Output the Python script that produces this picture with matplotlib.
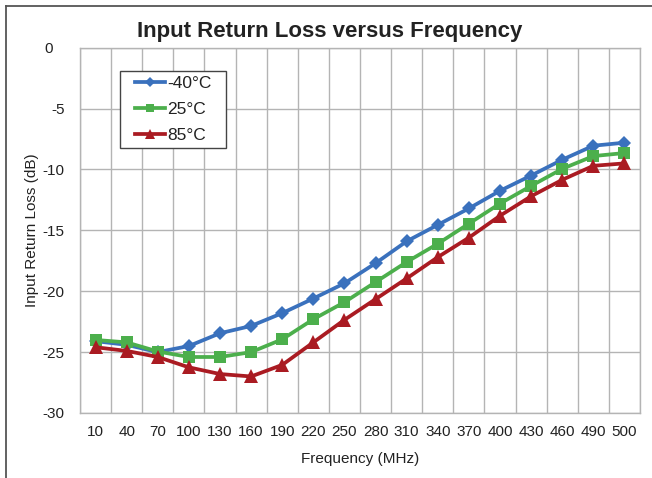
import matplotlib
matplotlib.use("Agg")
import matplotlib.pyplot as plt
from matplotlib.lines import Line2D
from matplotlib.patches import Rectangle
from matplotlib.transforms import ScaledTranslation
import numpy as np

plt.rcParams["font.family"] = ["Liberation Sans", "DejaVu Sans"]
plt.rcParams["axes.unicode_minus"] = False

# ---------------------------------------------------------------------------
# Data: input return loss (dB) per test frequency (MHz)
# ---------------------------------------------------------------------------
freq_labels = ["10", "40", "70", "100", "130", "160", "190", "220", "250",
               "280", "310", "340", "370", "400", "430", "460", "490", "500"]

rl_m40 = [-24.1, -24.4, -25.0, -24.5, -23.45, -22.85, -21.8, -20.6, -19.35,
          -17.7, -15.9, -14.55, -13.2, -11.75, -10.5, -9.2, -8.05, -7.8]
rl_25 = [-24.0, -24.2, -24.95, -25.4, -25.4, -25.0, -23.95, -22.3, -20.9,
         -19.25, -17.6, -16.1, -14.45, -12.8, -11.35, -9.95, -8.9, -8.65]
rl_85 = [-24.6, -24.9, -25.4, -26.25, -26.8, -27.0, -26.05, -24.2, -22.35,
         -20.65, -18.95, -17.2, -15.6, -13.8, -12.2, -10.85, -9.7, -9.5]

BLUE = "#3a71bd"
GREEN = "#4caf4c"
RED = "#aa1b22"
GRID = "#b4b4b4"
TEXT = "#222222"

W, H = 652, 478
fig = plt.figure(figsize=(W / 100, H / 100), dpi=100)
ax = fig.add_axes([80 / W, 1 - 413 / H, 560 / W, 365.3 / H])


def px_to_axes(px, py):
    # pixel position (from top-left of figure) -> axes fraction
    return (px - 80) / 560, (413 - py) / 365.3


x = np.arange(len(freq_labels))
series = [
    (rl_m40, BLUE, "D", 7.5, "-40°C"),
    (rl_25, GREEN, "s", 9, "25°C"),
    (rl_85, RED, "^", 9.5, "85°C"),
]
for vals, col, mk, ms, lab in series:
    ax.plot(x, vals, color=col, linewidth=2.7, marker=mk, markersize=ms,
            markeredgewidth=0, label=lab, solid_joinstyle="round")

ax.set_xlim(-0.5, len(freq_labels) - 0.5)
ax.set_ylim(-30, 0)
ax.set_yticks(np.arange(-30, 1, 5))
ax.set_xticks(x)
ax.set_xticklabels(freq_labels)
ax.set_xticks(np.arange(-0.5, len(freq_labels), 1), minor=True)
ax.tick_params(axis="both", which="both", length=0, labelsize=11,
               colors=TEXT)
ax.tick_params(axis="x", pad=9)
ax.tick_params(axis="y", pad=11)
ax.grid(axis="y", which="major", color=GRID, linewidth=1.0)
ax.grid(axis="x", which="minor", color=GRID, linewidth=1.0)
ax.set_axisbelow(True)
for spine in ax.spines.values():
    spine.set_color(GRID)
    spine.set_linewidth(1.0)

# the "0" label sits a little further left than the others
zero_lbl = ax.get_yticklabels()[-1]
zero_lbl.set_transform(zero_lbl.get_transform()
                       + ScaledTranslation(-0.12, 0, fig.dpi_scale_trans))

ax.set_xlabel("Frequency (MHz)", fontsize=11, color=TEXT, labelpad=9)
ax.set_ylabel("Input Return Loss (dB)", fontsize=11, color=TEXT,
              labelpad=3)

fig.text(0.505, 0.935, "Input Return Loss versus Frequency", ha="center",
         va="center", fontsize=16, fontweight="bold", color=TEXT)

# legend entries without frame, box drawn separately
leg = ax.legend(loc="upper left", bbox_to_anchor=px_to_axes(135, 76),
                fontsize=12.5, frameon=False, handlelength=1.72,
                handletextpad=0.12, borderpad=0, labelspacing=0.62,
                borderaxespad=0, markerscale=0.7)
for t in leg.get_texts():
    t.set_color(TEXT)
x0, y0 = px_to_axes(120, 148)
x1, y1 = px_to_axes(226, 70.5)
ax.add_patch(Rectangle((x0, y0), x1 - x0, y1 - y0, transform=ax.transAxes,
                       facecolor="white", edgecolor="#444444",
                       linewidth=1.0, zorder=4))
leg.set_zorder(5)

# outer frame (left and top edges)
fig.add_artist(Line2D([6 / W, 6 / W], [0, 1 - 6 / H], color="#555555",
                      linewidth=1.3, transform=fig.transFigure))
fig.add_artist(Line2D([6 / W, 1], [1 - 6 / H, 1 - 6 / H],
                      color="#555555", linewidth=1.3,
                      transform=fig.transFigure))

fig.savefig("out.png", dpi=100)
